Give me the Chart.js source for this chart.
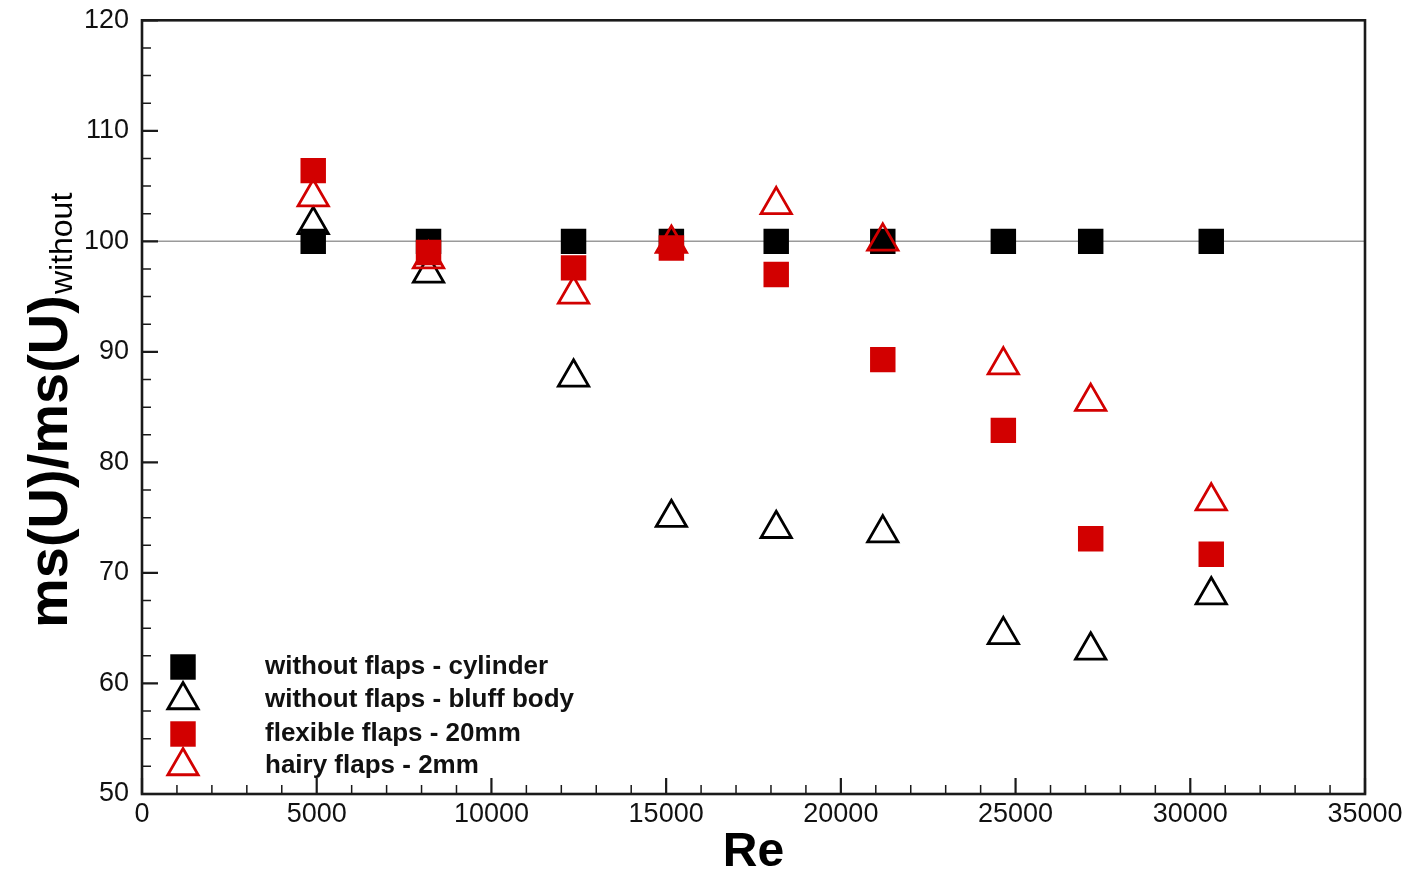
<!DOCTYPE html>
<html>
<head>
<meta charset="utf-8">
<title>rms(U) ratio vs Re</title>
<script src="https://cdn.jsdelivr.net/npm/chart.js@4.4.1/dist/chart.umd.min.js"></script>
<style>
  html, body { margin: 0; padding: 0; background: #fff; }
  #plot { display: block; }
</style>
</head>
<body>
<canvas id="plot" width="1410" height="870"></canvas>
<script>
// Reynolds numbers of the measurement runs
const reynolds = [4900, 8200, 12350, 15150, 18150, 21200, 24650, 27150, 30600];

// rms(U) normalised by the plain-cylinder value, in percent
const cylinder   = [100, 100, 100, 100, 100, 100, 100, 100, 100];
const bluffBody  = [101.5, 97.1, 87.7, 75.0, 74.0, 73.6, 64.4, 63.0, 68.0];
const flexible20 = [106.4, 99.0, 97.6, 99.4, 97.0, 89.3, 82.9, 73.1, 71.7];
const hairy2     = [104.0, 98.4, 95.2, 99.8, 103.3, 100.0, 88.8, 85.5, 76.5];

const seriesNames = [
  'without flaps - cylinder',
  'without flaps - bluff body',
  'flexible flaps - 20mm',
  'hairy flaps - 2mm'
];

const xTicks = [0, 5000, 10000, 15000, 20000, 25000, 30000, 35000];
const yTicks = [50, 60, 70, 80, 90, 100, 110, 120];
const xMinorStep = 1000;
const yMinorStep = 2.5;
const referenceLevel = 100;

const RED = '#d20000';
const BLACK = '#000000';
const FONT = '"Liberation Sans", Arial, Helvetica, sans-serif';

const SQUARE_R = 18;
const TRI_R = 17.5;
const TRI_LW = 2.8;

function points(ys) {
  return reynolds.map((x, i) => ({ x: x, y: ys[i] }));
}

const markerStyles = [
  { pointStyle: 'rect', color: BLACK, filled: true },
  { pointStyle: 'triangle', color: BLACK, filled: false },
  { pointStyle: 'rect', color: RED, filled: true },
  { pointStyle: 'triangle', color: RED, filled: false }
];
const seriesData = [cylinder, bluffBody, flexible20, hairy2];

const datasets = seriesData.map((ys, i) => {
  const m = markerStyles[i];
  return {
    label: seriesNames[i],
    data: points(ys),
    pointStyle: m.pointStyle,
    pointRadius: m.filled ? SQUARE_R : TRI_R,
    pointBackgroundColor: m.filled ? m.color : 'rgba(0,0,0,0)',
    pointBorderColor: m.color,
    pointBorderWidth: m.filled ? 0 : TRI_LW,
    showLine: false,
    order: 4 - i   // later series sit on top
  };
});

// same geometry as Chart.js uses for its point styles
function drawMarker(ctx, style, x, y) {
  ctx.save();
  ctx.beginPath();
  if (style.pointStyle === 'rect') {
    const s = Math.SQRT1_2 * SQUARE_R;
    ctx.rect(x - s, y - s, 2 * s, 2 * s);
    ctx.fillStyle = style.color;
    ctx.fill();
  } else {
    let a = 0;
    ctx.moveTo(x + Math.sin(a) * TRI_R, y - Math.cos(a) * TRI_R);
    a += 2 * Math.PI / 3;
    ctx.lineTo(x + Math.sin(a) * TRI_R, y - Math.cos(a) * TRI_R);
    a += 2 * Math.PI / 3;
    ctx.lineTo(x + Math.sin(a) * TRI_R, y - Math.cos(a) * TRI_R);
    ctx.closePath();
    ctx.strokeStyle = style.color;
    ctx.lineWidth = TRI_LW;
    ctx.stroke();
  }
  ctx.restore();
}

const framePlugin = {
  id: 'frame',
  beforeDatasetsDraw(chart) {
    const { ctx, chartArea: a, scales } = chart;
    const y = scales.y.getPixelForValue(referenceLevel);
    ctx.save();
    ctx.strokeStyle = '#9a9a9a';
    ctx.lineWidth = 1.5;
    ctx.beginPath();
    ctx.moveTo(a.left, y);
    ctx.lineTo(a.right, y);
    ctx.stroke();
    ctx.restore();
  },
  afterDatasetsDraw(chart) {
    const { ctx, chartArea: a, scales } = chart;
    const xs = scales.x, ys = scales.y;
    ctx.save();
    ctx.strokeStyle = '#1a1a1a';
    ctx.lineCap = 'butt';

    // minor ticks, pointing into the plot
    ctx.lineWidth = 1.5;
    ctx.beginPath();
    for (let v = xs.min; v <= xs.max; v += xMinorStep) {
      if (v % 5000 === 0) continue;
      const px = xs.getPixelForValue(v);
      ctx.moveTo(px, a.bottom);
      ctx.lineTo(px, a.bottom - 9);
    }
    for (let v = ys.min; v <= ys.max; v += yMinorStep) {
      if (v % 10 === 0) continue;
      const py = ys.getPixelForValue(v);
      ctx.moveTo(a.left, py);
      ctx.lineTo(a.left + 9, py);
    }
    ctx.stroke();

    // major ticks
    ctx.lineWidth = 2.2;
    ctx.beginPath();
    xTicks.forEach(v => {
      const px = xs.getPixelForValue(v);
      ctx.moveTo(px, a.bottom);
      ctx.lineTo(px, a.bottom - 16);
    });
    yTicks.forEach(v => {
      const py = ys.getPixelForValue(v);
      ctx.moveTo(a.left, py);
      ctx.lineTo(a.left + 16, py);
    });
    ctx.stroke();

    // box
    ctx.lineWidth = 2.6;
    ctx.strokeRect(a.left, a.top, a.right - a.left, a.bottom - a.top);
    ctx.restore();
  },
  afterDraw(chart) {
    const { ctx, chartArea: a } = chart;
    ctx.save();
    ctx.fillStyle = '#000';

    // x axis title
    ctx.font = 'bold 48px ' + FONT;
    ctx.textAlign = 'center';
    ctx.textBaseline = 'alphabetic';
    ctx.fillText('Re', (a.left + a.right) / 2, 866);

    // y axis title with subscript, rotated
    ctx.translate(67, 628);
    ctx.rotate(-Math.PI / 2);
    ctx.textAlign = 'left';
    ctx.font = 'bold 56px ' + FONT;
    const main = 'ms(U)/ms(U)';
    ctx.fillText(main, 0, 0);
    const w = ctx.measureText(main).width;
    ctx.font = '32px ' + FONT;
    ctx.fillText('without', w + 1, 5);
    ctx.restore();

    // legend in the lower left corner of the plot
    ctx.save();
    const rows = [667, 700, 734, 766];
    ctx.font = 'bold 26px ' + FONT;
    ctx.textAlign = 'left';
    ctx.textBaseline = 'middle';
    rows.forEach((ry, i) => {
      drawMarker(ctx, markerStyles[i], 183, ry);
      ctx.fillStyle = '#111';
      ctx.fillText(seriesNames[i], 265, ry);
    });
    ctx.restore();
  }
};

new Chart(document.getElementById('plot'), {
  type: 'scatter',
  data: { datasets: datasets },
  options: {
    responsive: false,
    animation: false,
    devicePixelRatio: 1,
    events: [],
    layout: { padding: { left: 0, top: 20, right: 45, bottom: 0 } },
    plugins: {
      legend: { display: false },
      tooltip: { enabled: false }
    },
    scales: {
      x: {
        type: 'linear',
        min: 0,
        max: 35000,
        afterBuildTicks(scale) { scale.ticks = xTicks.map(v => ({ value: v })); },
        afterFit(scale) {
          scale.height = 76;
          scale.paddingLeft = 0;
          scale.paddingRight = 0;
        },
        ticks: {
          color: '#111',
          font: { family: FONT, size: 27 },
          padding: 4,
          maxRotation: 0,
          autoSkip: false,
          callback: v => String(v)
        },
        grid: { display: false, drawTicks: false },
        border: { display: false }
      },
      y: {
        type: 'linear',
        min: 50,
        max: 120,
        afterBuildTicks(scale) { scale.ticks = yTicks.map(v => ({ value: v })); },
        afterFit(scale) {
          scale.width = 142;
          scale.paddingTop = 0;
          scale.paddingBottom = 0;
        },
        ticks: {
          color: '#111',
          font: { family: FONT, size: 27 },
          padding: 13,
          autoSkip: false,
          callback: v => String(v)
        },
        grid: { display: false, drawTicks: false },
        border: { display: false }
      }
    }
  },
  plugins: [framePlugin]
});
</script>
</body>
</html>
